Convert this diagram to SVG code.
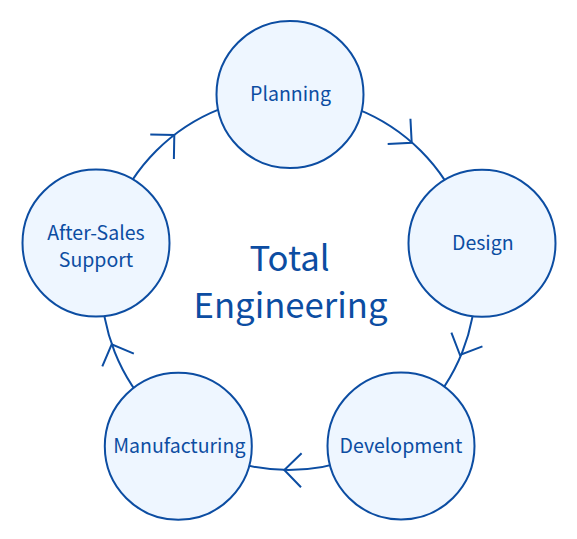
<svg xmlns="http://www.w3.org/2000/svg" width="577" height="539" viewBox="0 0 577 539">
<style>
.ring{fill:none;stroke:#0c4da2;stroke-width:2}
.arr{fill:none;stroke:#0c4da2;stroke-width:2;stroke-linecap:butt;stroke-linejoin:miter}
.node circle{fill:#eef6ff;stroke:#0c4da2;stroke-width:2}
.lbl{font-family:"Noto Sans CJK JP","Noto Sans",sans-serif;font-size:19.5px;fill:#0c4da2;text-anchor:middle}
.title{font-family:"Noto Sans CJK JP","Noto Sans",sans-serif;font-size:34.7px;fill:#0c4da2;text-anchor:middle}
</style>
<defs>
<path id="chev" d="M-17,-17 L0,0 L-17,17"/>
</defs>
<g id="connectors">
<circle class="ring" cx="288.5" cy="283" r="187"/>
<use href="#chev" class="arr" transform="translate(174.3,135) rotate(-44)"/>
<use href="#chev" class="arr" transform="translate(411.7,142.7) rotate(42)"/>
<use href="#chev" class="arr" transform="translate(460,355) rotate(114)"/>
<use href="#chev" class="arr" transform="translate(284.3,470) rotate(181)"/>
<use href="#chev" class="arr" transform="translate(111.7,344.3) rotate(248)"/>
</g>
<g id="title">
<text class="title" x="289.5" y="271">Total</text>
<text class="title" x="290.5" y="318">Engineering</text>
</g>
<g id="planning" class="node">
<circle cx="290" cy="94.5" r="73.5"/>
<text class="lbl" x="290.5" y="101">Planning</text>
</g>
<g id="design" class="node">
<circle cx="482" cy="243.3" r="73.5"/>
<text class="lbl" x="482.8" y="250">Design</text>
</g>
<g id="development" class="node">
<circle cx="401" cy="446" r="73.5"/>
<text class="lbl" x="401" y="453">Development</text>
</g>
<g id="manufacturing" class="node">
<circle cx="178.3" cy="446.3" r="73.5"/>
<text class="lbl" x="179.3" y="453">Manufacturing</text>
</g>
<g id="after-sales" class="node">
<circle cx="96" cy="243" r="73.5"/>
<text class="lbl" x="96" y="239.5">After-Sales</text>
<text class="lbl" x="96" y="266.5">Support</text>
</g>
</svg>
